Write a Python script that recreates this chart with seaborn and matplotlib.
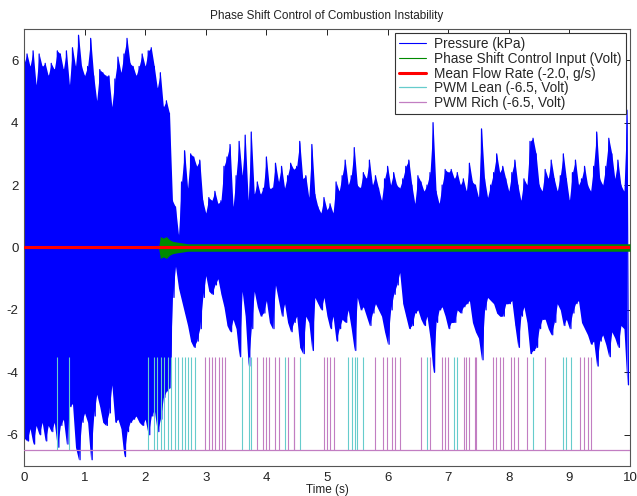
import numpy as np
import matplotlib
matplotlib.use("Agg")
import matplotlib.pyplot as plt
from matplotlib.lines import Line2D
import seaborn as sns

# pressure envelope, every 0.05 s (upper peak / lower peak)
t_step = 0.05
pressure_upper = [
    5.9, 6.2, 5.8, 6.3, 5.2, 6.2, 5.8, 5.9, 5.5, 5.9, 5.7, 6.3, 6.2, 5.7, 6.3, 5.2, 6.4, 5.8, 6.8, 5.8,
    5.5, 5.8, 6.7, 5.5, 4.7, 5.7, 5.6, 5.5, 5.5, 4.5, 5.4, 6.1, 5.6, 6.2, 6.7, 5.9, 5.8, 5.5, 5.8, 6.2,
    5.8, 6.3, 6.4, 5.8, 5.1, 5.6, 4.5, 4.7, 4.3, 1.5, 1.3, 0.4, 2.1, 3.1, 1.9, 3.0, 2.9, 2.6, 2.8, 1.5,
    1.1, 1.6, 1.5, 1.8, 1.4, 1.5, 2.6, 2.9, 3.3, 1.3, 2.3, 3.4, 2.3, 3.6, 1.5, 3.7, 1.7, 2.1, 1.7, 1.9,
    2.9, 1.9, 1.9, 2.7, 2.1, 2.6, 1.9, 2.3, 2.7, 2.5, 2.6, 3.4, 2.2, 2.3, 1.6, 3.3, 1.7, 1.3, 1.1, 1.6,
    1.2, 1.4, 1.1, 2.1, 1.8, 2.3, 2.8, 2.0, 2.3, 3.2, 2.0, 1.9, 2.4, 2.2, 2.8, 2.0, 2.3, 1.9, 1.5, 2.2,
    2.6, 2.0, 2.4, 2.0, 1.9, 2.2, 2.6, 2.8, 2.0, 1.4, 2.3, 2.1, 1.8, 2.0, 2.4, 4.0, 1.8, 1.4, 2.0, 2.5,
    2.4, 2.5, 2.2, 2.4, 2.0, 2.2, 1.8, 2.7, 2.1, 2.0, 1.6, 3.8, 2.2, 1.6, 2.0, 2.4, 3.0, 2.4, 2.6, 2.2,
    1.8, 2.4, 2.8, 2.0, 1.5, 2.2, 2.0, 3.4, 3.5, 3.0, 2.0, 1.8, 2.5, 2.2, 2.8, 2.2, 1.8, 2.3, 3.0, 2.2,
    1.5, 2.4, 2.8, 2.0, 2.2, 2.6, 2.0, 1.8, 2.6, 3.7, 2.2, 2.0, 2.6, 3.5, 3.0, 2.2, 2.8, 2.0, 1.8, 4.4,
]
pressure_lower = [
    -6.1, -6.2, -5.8, -6.3, -5.7, -6.0, -5.6, -6.2, -5.7, -5.9, -5.6, -6.4, -5.7, -5.5, -6.3, -5.1, -5.0, -6.4, -6.8, -5.6,
    -5.3, -5.6, -6.8, -5.4, -4.7, -5.1, -5.6, -5.7, -5.3, -4.4, -5.6, -5.5, -5.8, -6.7, -5.9, -5.6, -5.5, -5.4, -5.6, -5.7,
    -5.5, -6.0, -5.4, -5.2, -5.9, -5.5, -4.8, -4.6, -4.5, -1.6, -0.6, -1.3, -1.7, -2.1, -2.5, -3.0, -3.2, -3.0, -2.6, -1.6,
    -0.9, -1.4, -1.5, -1.2, -1.0, -1.5, -1.9, -2.5, -2.7, -2.3, -2.6, -3.5, -1.4, -2.2, -3.8, -2.6, -1.4, -1.9, -2.2, -2.1,
    -1.7, -2.4, -2.6, -1.2, -1.7, -2.2, -1.8, -2.4, -2.7, -2.4, -2.2, -3.2, -3.4, -2.2, -2.4, -3.3, -1.6, -1.8, -2.0, -1.6,
    -2.2, -2.6, -2.2, -3.0, -2.6, -2.3, -2.4, -2.0, -2.6, -3.3, -1.6, -2.0, -1.9, -2.2, -2.5, -2.1, -1.8, -2.0, -2.2, -2.7,
    -3.1, -2.0, -1.5, -1.2, -0.8, -1.8, -2.2, -2.6, -2.5, -2.1, -2.0, -2.3, -2.5, -2.2, -2.9, -4.0, -2.4, -2.0, -1.9, -2.2,
    -2.6, -2.4, -2.4, -2.0, -2.1, -1.9, -1.8, -1.7, -2.4, -2.7, -2.9, -3.6, -2.0, -1.6, -1.7, -1.8, -2.1, -2.2, -2.2, -1.8,
    -1.8, -1.7, -2.5, -3.2, -2.2, -1.9, -2.4, -3.4, -3.3, -3.2, -2.6, -2.3, -2.3, -2.6, -2.8, -2.4, -1.8, -2.0, -2.5, -2.3,
    -2.6, -2.1, -1.8, -1.7, -2.4, -2.6, -2.8, -3.1, -3.0, -3.8, -3.0, -2.8, -3.1, -3.5, -2.7, -2.9, -3.2, -2.5, -2.6, -4.4,
]

# phase shift control input (amplitude of the green band)
ctrl_t = [0.0, 2.22, 2.25, 2.30, 2.35, 2.40, 2.45, 2.50, 2.70, 10.0]
ctrl_amp = [0.0, 0.0, 0.35, 0.30, 0.35, 0.25, 0.20, 0.18, 0.12, 0.12]

# mean flow rate (offset -2.0 g/s)
flow_t = [0.0, 10.0]
flow_val = [0.0, 0.0]

# PWM pulses: base -6.5, pulse top -3.5
pwm_base = -6.5
pwm_top = -3.5
lean_times = [0.545, 0.743, 2.05, 2.15, 2.20, 2.26, 2.31, 2.37, 2.43, 2.49, 2.54, 2.60, 2.65,
              2.71, 2.76, 2.82, 3.59, 3.71, 3.75, 4.31, 4.55, 5.35, 5.42, 5.46, 5.49, 5.60,
              6.65, 7.10, 7.14, 8.40, 8.90, 8.95, 9.03]
rich_times = [2.99, 3.05, 3.10, 3.16, 3.21, 3.27, 3.32, 3.85, 3.95, 4.00, 4.05, 4.15, 4.20,
              4.35, 4.45, 4.46, 4.95, 5.00, 5.05, 5.11, 5.79, 5.93, 5.99, 6.08, 6.13, 6.20,
              6.55, 6.70, 6.89, 6.94, 7.00, 7.26, 7.30, 7.34, 7.45, 7.46, 7.74, 7.79, 7.85,
              7.90, 8.04, 8.09, 8.15, 8.30, 8.59, 9.18, 9.24, 9.30, 9.35]

labels = ["Pressure (kPa)", "Phase Shift Control Input (Volt)", "Mean Flow Rate (-2.0, g/s)",
          "PWM Lean (-6.5, Volt)", "PWM Rich (-6.5, Volt)"]

sns.set_style("white")
plt.rcParams["font.family"] = ["Liberation Sans", "DejaVu Sans"]
plt.rcParams["axes.unicode_minus"] = False

c_press = "#0000ff"
c_ctrl = "#008a00"
c_flow = "#ff0000"
c_lean = "#66cccc"
c_rich = "#c27ec2"

fig = plt.figure(figsize=(6.37, 4.96), dpi=100)
ax = fig.add_axes([24 / 637, 30 / 496, 606 / 637, 437 / 496])

# pressure: solid body between the envelopes, plus a zigzag through the peaks
t_up = np.arange(len(pressure_upper)) * t_step
t_lo = t_up + t_step / 2
ax.fill_between(t_up, pressure_lower, pressure_upper, color=c_press, lw=0, zorder=1)
px = np.column_stack([t_up, t_lo]).ravel()
py = np.column_stack([pressure_upper, pressure_lower]).ravel()
sns.lineplot(x=px, y=py, sort=False, estimator=None, color=c_press, lw=0.9, ax=ax, zorder=2)

ax.fill_between(ctrl_t, -np.array(ctrl_amp), ctrl_amp, color=c_ctrl, lw=0, zorder=3)
sns.lineplot(x=flow_t, y=flow_val, color=c_flow, lw=2.2, ax=ax, zorder=4)

ax.vlines(lean_times, pwm_base, pwm_top, color=c_lean, lw=0.8, zorder=3)
ax.vlines(rich_times, pwm_base, pwm_top, color=c_rich, lw=0.8, zorder=3)
ax.plot([0, 10], [pwm_base, pwm_base], color=c_rich, lw=0.9, zorder=3)

ax.set_xlim(0, 10)
ax.set_ylim(-7, 7)
ax.set_xticks(range(0, 11))
ax.set_yticks(range(-6, 7, 2))
ax.tick_params(direction="in", top=True, right=True, length=4, width=0.7,
               labelsize=9.5, colors="#222222", pad=4)
for sp in ax.spines.values():
    sp.set_color("#555555")
    sp.set_linewidth(0.8)

ax.set_title("Phase Shift Control of Combustion Instability", fontsize=8.5, pad=7, color="#222222")
ax.set_xlabel("Time (s)", fontsize=8.5, labelpad=0.5, color="#222222")

handles = [Line2D([], [], color=c_press, lw=0.8),
           Line2D([], [], color=c_ctrl, lw=0.8),
           Line2D([], [], color=c_flow, lw=2.2),
           Line2D([], [], color=c_lean, lw=0.9),
           Line2D([], [], color=c_rich, lw=0.9)]
leg = ax.legend(handles, labels, loc="upper right", fontsize=9.8, frameon=True, fancybox=False,
                edgecolor="#333333", framealpha=1, borderaxespad=0.3, handlelength=2.0,
                labelspacing=0.05, borderpad=0.3, handletextpad=0.6)
leg.get_frame().set_linewidth(0.8)
leg.set_zorder(10)

fig.savefig("out.png", dpi=100)
